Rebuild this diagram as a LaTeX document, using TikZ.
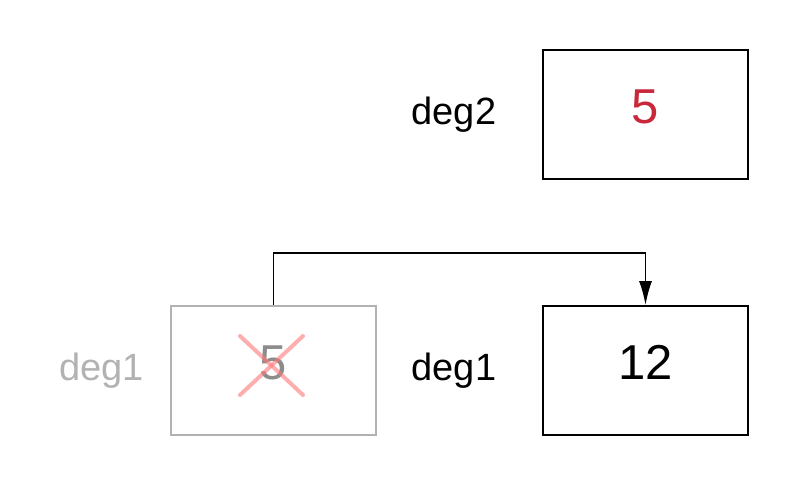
\documentclass[tikz,border=0pt]{standalone}
\usepackage{fontspec}
\setmainfont{Liberation Sans}
\usepackage{xcolor}
\usetikzlibrary{positioning,calc,arrows.meta}
\definecolor{valred}{RGB}{200,40,58}
\definecolor{oldgrey}{RGB}{178,178,178}
\definecolor{crosspink}{RGB}{255,120,120}

\begin{document}
\begin{tikzpicture}[
		x=1pt,y=-1pt,
		cell/.style={draw, line width=1.8pt, minimum width=205pt, minimum height=129pt, inner sep=0pt,
			text depth=16pt, font=\fontsize{49}{52}\selectfont},
		oldcell/.style={cell, draw=oldgrey, text=black!45},
		lbl/.style={anchor=base, font=\fontsize{38}{42}\selectfont},
		>={Latex[length=24pt,width=13pt]}
		]
		\useasboundingbox (0,0) rectangle (800,487);
		
		% ====== HÀNG TRÊN ======
		\node[cell, text=valred] (d2) at (645.5,114.5) {5};
		\node[lbl] (l2) at (454,124) {deg2};
		
		% ====== HÀNG DƯỚI ======
		\node[cell] (d1) at (645.5,370.5) {12};
		\node[lbl] (l1) at (454,380) {deg1};
		
		\node[oldcell] (d1old) at (273.5,370.5) {5};
		\node[lbl, text=oldgrey] (l1old) at (101.5,380) {deg1};
		
		% ====== DẤU GẠCH ======
		\draw[crosspink, line width=4pt, opacity=0.6, line cap=round]
		([xshift=-33.5pt,yshift=34.5pt]d1old.center) -- ([xshift=29.5pt,yshift=-24.5pt]d1old.center);
		\draw[crosspink, line width=4pt, opacity=0.6, line cap=round]
		([xshift=-33.5pt,yshift=-24.5pt]d1old.center) -- ([xshift=29.5pt,yshift=34.5pt]d1old.center);
		
		% ====== MŨI TÊN ======
		\coordinate (bend) at ($(d1old.north)+(0,-52)$);
		\draw[->, line width=1.8pt] (d1old.north) -- (bend) -| (d1.north);
		
\end{tikzpicture}
\end{document}
